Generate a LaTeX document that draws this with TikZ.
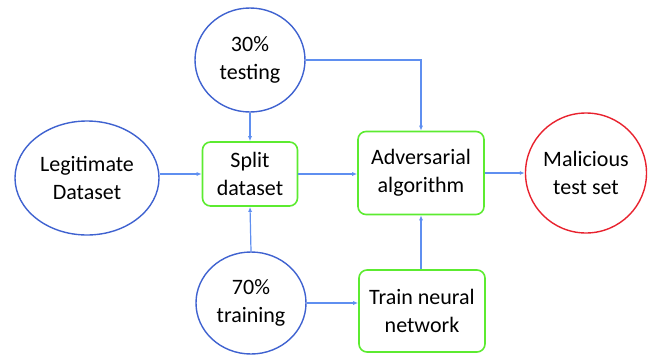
\documentclass[tikz,border=0pt]{standalone}
\usepackage{fontspec}
\setmainfont{Carlito}
\usetikzlibrary{shapes.geometric,arrows.meta}
\definecolor{cblue}{HTML}{3F62D0}
\definecolor{lblue}{HTML}{5F8FF0}
\definecolor{cgreen}{HTML}{5CEB30}
\definecolor{cred}{HTML}{E8222E}
\begin{document}
\begin{tikzpicture}[x=1pt,y=-1pt,
  every node/.style={font=\fontsize{22}{28}\selectfont, align=center, text=black},
  oval/.style={ellipse, draw=cblue, line width=1.4pt, inner sep=0pt},
  redoval/.style={ellipse, draw=cred, line width=1.4pt, inner sep=0pt},
  gbox/.style={rectangle, rounded corners=8pt, draw=cgreen, line width=1.6pt, inner sep=0pt},
  conn/.style={draw=lblue, line width=1.2pt, -{Latex[length=5pt,width=4pt]}}]
\useasboundingbox (0,0) rectangle (651,354);
\node[oval, minimum width=110pt, minimum height=104pt] (test) at (250,60) {30\%\\testing};
\node[oval, minimum width=144pt, minimum height=114pt] (legit) at (87,178) {Legitimate\\Dataset};
\node[gbox, minimum width=95pt, minimum height=64pt] (split) at (250,174) {Split\\dataset};
\node[gbox, minimum width=126pt, minimum height=83pt] (adv) at (421,173) {Adversarial\\algorithm};
\node[redoval, minimum width=118pt, minimum height=120pt] (mal) at (586,173) {Malicious\\test set};
\node[oval, minimum width=110pt, minimum height=102pt] (train) at (251,303) {70\%\\training};
\node[gbox, minimum width=126pt, minimum height=82pt] (tnn) at (422,311) {Train neural\\network};
\draw[conn] (test.south) -- (split.north);
\draw[conn] (test.east) -| (adv.north);
\draw[conn] (legit.east |- split.west) -- (split.west);
\draw[conn] (split.east) -- (split.east -| adv.west);
\draw[conn] (adv.east) -- (adv.east -| mal.west);
\draw[conn] (train.north) -- (split.south);
\draw[conn] (train.east) -- (train.east -| tnn.west);
\draw[conn] (tnn.north -| adv.south) -- (adv.south);
\end{tikzpicture}
\end{document}
